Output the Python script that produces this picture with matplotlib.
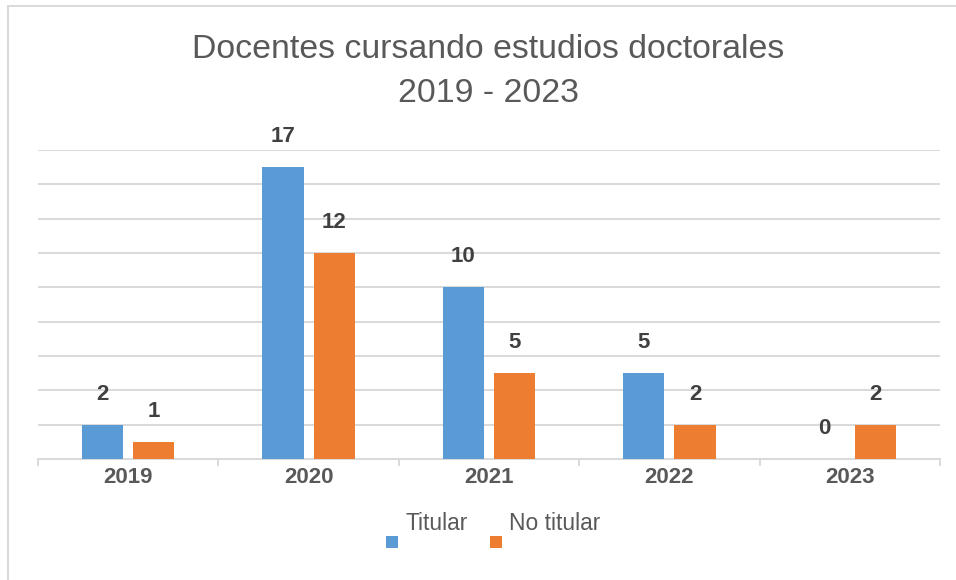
import matplotlib.pyplot as plt
import matplotlib.patches as mpatches
import matplotlib.lines as mlines
import numpy as np

years = ["2019", "2020", "2021", "2022", "2023"]
titular = [2, 17, 10, 5, 0]
no_titular = [1, 12, 5, 2, 2]
series_names = ["Titular", "No titular"]

BLUE = "#5B9BD5"
ORANGE = "#ED7D31"
GRID = "#D9D9D9"
TXT = "#595959"
LBL = "#404040"

plt.rcParams['font.family'] = ['Liberation Sans', 'DejaVu Sans']

fig = plt.figure(figsize=(9.56, 5.8), dpi=100)
ax = fig.add_axes([38/956, 1-459/580, (940-38)/956, (459-150)/580])

x = np.arange(len(years))
w = 0.228
off = 0.142
b1 = ax.bar(x - off, titular, w, color=BLUE, zorder=3)
b2 = ax.bar(x + off, no_titular, w, color=ORANGE, zorder=3)

for bars, vals in ((b1, titular), (b2, no_titular)):
    for rect, v in zip(bars, vals):
        ax.annotate(str(v), (rect.get_x() + rect.get_width()/2, v),
                    xytext=(0, 14.5), textcoords="offset points",
                    ha="center", va="bottom", fontsize=16,
                    fontweight="bold", color=LBL)

ax.set_xlim(-0.5, len(years) - 0.5)
ax.set_ylim(0, 18)
ax.set_yticks(np.arange(2, 19, 2))
ax.yaxis.grid(True, color=GRID, linewidth=1.4)
ax.tick_params(axis="y", left=False, labelleft=False)
for s in ("top", "right", "left"):
    ax.spines[s].set_visible(False)
ax.spines["bottom"].set_color(GRID)
ax.spines["bottom"].set_linewidth(1.4)

ax.set_xticks(np.arange(-0.5, len(years), 1))
ax.set_xticklabels([])
ax.tick_params(axis="x", length=5, color=GRID, width=1.4, direction="out")
ax.set_xticks(x, minor=True)
ax.set_xticklabels(years, minor=True, fontsize=16, fontweight="bold", color=TXT)
ax.tick_params(axis="x", which="minor", length=0, pad=6)

fig.text(488/956, 1-50/580, "Docentes cursando estudios doctorales",
         ha="center", va="center", fontsize=24.4, color=TXT)
fig.text(488/956, 1-93/580, "2019 - 2023",
         ha="center", va="center", fontsize=24.4, color=TXT)

# legend (text above, marker below-left as in the original)
for name, col, tx, sx in ((series_names[0], BLUE, 405, 386),
                          (series_names[1], ORANGE, 509, 490)):
    fig.text(tx/956, 1-523/580, name, ha="left", va="center",
             fontsize=16.4, color=TXT)
    fig.patches.append(mpatches.Rectangle((sx/956, 1-548/580), 12/956, 12/580,
                                          transform=fig.transFigure,
                                          facecolor=col, edgecolor="none"))

# chart border
fig.lines.append(mlines.Line2D([8/956, 1], [1-6/580, 1-6/580],
                               transform=fig.transFigure, color=GRID, lw=1.4))
fig.lines.append(mlines.Line2D([8/956, 8/956], [0, 1-6/580],
                               transform=fig.transFigure, color=GRID, lw=1.4))

fig.savefig("out.png", dpi=100)
